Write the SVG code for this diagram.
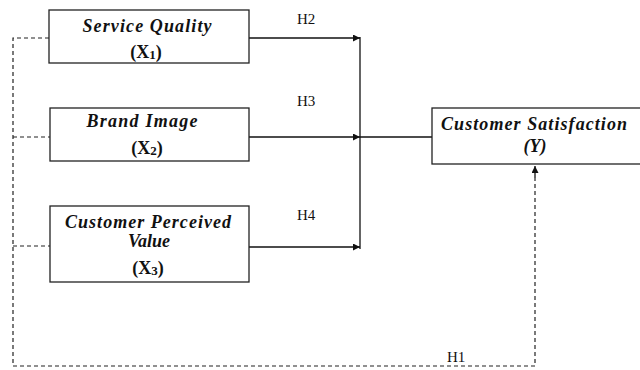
<svg xmlns="http://www.w3.org/2000/svg" width="640" height="370" viewBox="0 0 640 370">
<style>
.box{fill:#fff;stroke:#222;stroke-width:1.3}
.t{font-family:"Liberation Serif","DejaVu Serif",serif;font-weight:bold;font-style:italic;font-size:18px;fill:#111;text-anchor:middle}
.x{font-family:"Liberation Serif","DejaVu Serif",serif;font-weight:bold;font-size:18px;fill:#111;text-anchor:middle}
.h{font-family:"Liberation Serif","DejaVu Serif",serif;font-size:15px;fill:#111}
.ln{stroke:#111;stroke-width:1.3;fill:none}
.ds{stroke:#222;stroke-width:1.2;fill:none;stroke-dasharray:4,3}
</style>
<defs>
<marker id="ar" viewBox="0 0 10 10" refX="10" refY="5" markerWidth="9" markerHeight="7" markerUnits="userSpaceOnUse" orient="auto">
<path d="M0,0 L10,5 L0,10 z" fill="#111"/>
</marker>
</defs>
<g id="connectors">
<path class="ds" d="M49,38 H13 V366 H535 V178"/>
<path class="ds" d="M13,137 H50"/>
<path class="ds" d="M13,246 H50"/>
<path class="ln" d="M535,178 V166" marker-end="url(#ar)"/>
<path class="ln" d="M249,38 H360" marker-end="url(#ar)"/>
<path class="ln" d="M249,137 H360" marker-end="url(#ar)"/>
<path class="ln" d="M249,247 H360" marker-end="url(#ar)"/>
<path class="ln" d="M360,37 V249"/>
<path class="ln" d="M360,137 H432"/>
<text class="h" x="297" y="24">H2</text>
<text class="h" x="297" y="106">H3</text>
<text class="h" x="297" y="220">H4</text>
<text class="h" x="447" y="362">H1</text>
</g>
<g id="x1">
<rect class="box" x="49" y="10" width="200" height="53"/>
<text class="t" x="147" y="32" textLength="129" lengthAdjust="spacing">Service Quality</text>
<text class="x" x="146" y="58">(X<tspan font-size="13" dy="1">1</tspan><tspan dy="-1">)</tspan></text>
</g>
<g id="x2">
<rect class="box" x="50" y="108" width="199" height="53"/>
<text class="t" x="142" y="127" textLength="111" lengthAdjust="spacing">Brand Image</text>
<text class="x" x="147" y="154">(X<tspan font-size="13" dy="1">2</tspan><tspan dy="-1">)</tspan></text>
</g>
<g id="x3">
<rect class="box" x="50" y="206" width="199" height="76"/>
<text class="t" x="148" y="228" textLength="166" lengthAdjust="spacing">Customer Perceived</text>
<text class="t" x="149" y="247">Value</text>
<text class="x" x="148" y="274">(X<tspan font-size="13" dy="1">3</tspan><tspan dy="-1">)</tspan></text>
</g>
<g id="y">
<rect class="box" x="432" y="108" width="210" height="56"/>
<text class="t" x="534" y="130" textLength="186" lengthAdjust="spacing">Customer Satisfaction</text>
<text class="t" x="535" y="152">(Y)</text>
</g>
</svg>
